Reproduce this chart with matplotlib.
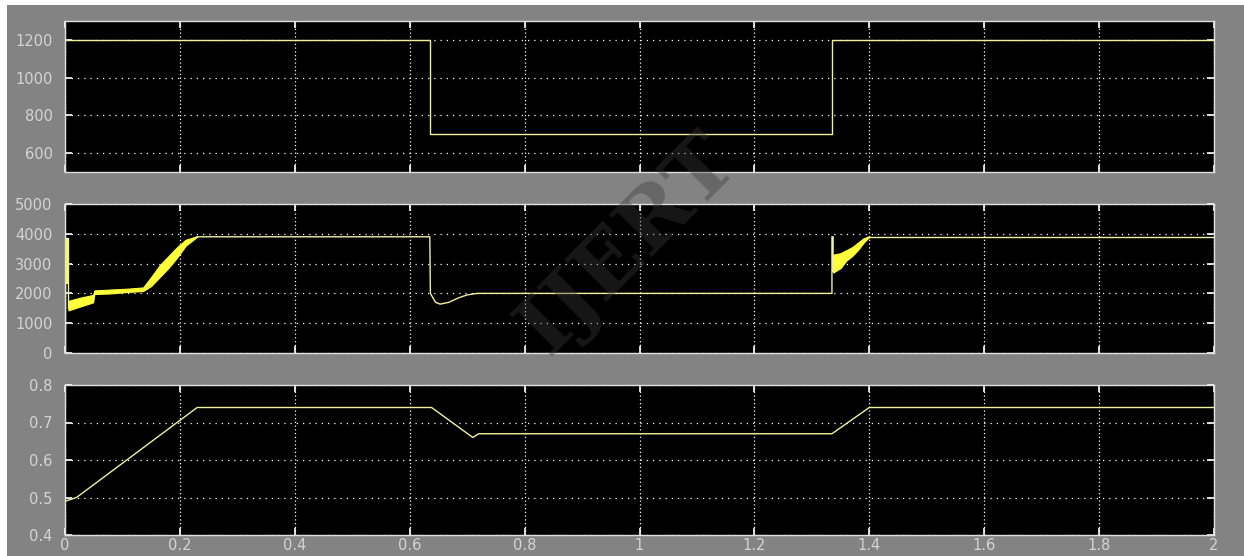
import matplotlib
matplotlib.use("Agg")
import matplotlib.pyplot as plt
from matplotlib.patches import Rectangle

# ---- data ----
# panel 1: speed reference
t_ref = [0.0, 0.635, 0.635, 1.335, 1.335, 2.0]
speed_ref = [1200, 1200, 700, 700, 1200, 1200]

# panel 2: current-like trace (thin parts + chattering bands)
t_start = [0.0, 0.0, 0.006, 0.006]
v_start = [0, 3870, 3870, 1500]
t_bar = [0.0005, 0.006]
bar_low = [2300, 2300]
bar_high = [3870, 3870]

t_band1 = [0.006, 0.025, 0.049, 0.051, 0.08, 0.11, 0.136, 0.15, 0.165, 0.18, 0.195, 0.21, 0.23]
band1_low = [1430, 1550, 1700, 1980, 2000, 2050, 2080, 2250, 2550, 2850, 3200, 3600, 3900]
band1_high = [1750, 1850, 1950, 2100, 2130, 2160, 2200, 2550, 2950, 3250, 3550, 3800, 3920]

t_mid = [0.23, 0.635, 0.636, 0.645, 0.653, 0.668, 0.685, 0.70, 0.717, 1.335, 1.335, 1.337, 1.337]
v_mid = [3900, 3900, 2000, 1700, 1640, 1700, 1850, 1950, 2000, 2000, 3900, 3900, 2750]

t_band2 = [1.337, 1.35, 1.36, 1.37, 1.38, 1.39, 1.40]
band2_low = [2700, 2850, 3100, 3250, 3450, 3700, 3900]
band2_high = [3300, 3350, 3450, 3550, 3700, 3850, 3920]

t_end = [1.40, 2.0]
v_end = [3900, 3900]

# panel 3: duty ratio
t_duty = [0.0, 0.02, 0.23, 0.638, 0.71, 0.72, 1.335, 1.40, 2.0]
duty = [0.49, 0.50, 0.74, 0.74, 0.66, 0.67, 0.67, 0.74, 0.74]

x_ticks = [0, 0.2, 0.4, 0.6, 0.8, 1.0, 1.2, 1.4, 1.6, 1.8, 2.0]
x_labels = ["0", "0.2", "0.4", "0.6", "0.8", "1", "1.2", "1.4", "1.6", "1.8", "2"]
y1_ticks = [600, 800, 1000, 1200]
y2_ticks = [0, 1000, 2000, 3000, 4000, 5000]
y3_ticks = [0.4, 0.5, 0.6, 0.7, 0.8]
y3_labels = ["0.4", "0.5", "0.6", "0.7", "0.8"]

line_col = "#f0f0a0"
band_col = "#ffff3a"
lab_col = "#d4d4d4"

fig = plt.figure(figsize=(12.44, 5.56), dpi=100, facecolor="white")
fig.patches.append(Rectangle((7 / 1244, 0), 1, 551 / 556, transform=fig.transFigure,
                             facecolor="#838383", edgecolor="none", zorder=-10))

left = 65 / 1244
width = (1214 - 65) / 1244
ax1 = fig.add_axes([left, 1 - 172 / 556, width, 151 / 556])
ax2 = fig.add_axes([left, 1 - 353 / 556, width, 149 / 556])
ax3 = fig.add_axes([left, 1 - 535 / 556, width, 150 / 556])


def style(ax, yticks, ylim, ylabels=None, bottom=False):
    ax.set_facecolor("black")
    ax.set_xlim(0, 2)
    ax.set_ylim(*ylim)
    ax.set_xticks(x_ticks)
    ax.set_yticks(yticks)
    if ylabels is not None:
        ax.set_yticklabels(ylabels)
    if bottom:
        ax.set_xticklabels(x_labels)
    else:
        ax.set_xticklabels([])
    for s in ax.spines.values():
        s.set_color("#e0e0e0")
        s.set_linewidth(1.0)
    ax.tick_params(direction="in", length=5, width=1.2, color="white",
                   top=True, right=True, labelcolor=lab_col, labelsize=10.5)
    ax.tick_params(axis="y", pad=9)
    ax.tick_params(axis="x", pad=2)
    ax.xaxis.grid(True, color="white", linestyle=(0, (1, 2)), linewidth=0.9)
    ax.yaxis.grid(True, color="white", linestyle=(0, (1, 4)), linewidth=0.9)
    ax.set_axisbelow(True)


style(ax1, y1_ticks, (500, 1300))
ax1.plot(t_ref, speed_ref, color=line_col, lw=1.0)

style(ax2, y2_ticks, (0, 5000))
ax2.plot(t_start, v_start, color=line_col, lw=1.0)
ax2.fill_between(t_bar, bar_low, bar_high, color=band_col, lw=0)
ax2.fill_between(t_band1, band1_low, band1_high, color=band_col, lw=0.8, edgecolor=band_col)
ax2.plot(t_mid, v_mid, color=line_col, lw=1.0)
ax2.fill_between(t_band2, band2_low, band2_high, color=band_col, lw=0.8, edgecolor=band_col)
ax2.plot(t_end, v_end, color=line_col, lw=1.0)

style(ax3, y3_ticks, (0.4, 0.8), ylabels=y3_labels, bottom=True)
ax3.plot(t_duty, duty, color=line_col, lw=1.0)

# faint watermark over the middle panel
fig.text(0.505, 0.56, "IJERT", rotation=45, fontsize=60, family="DejaVu Serif",
         weight="bold", color="#3a3a3a", alpha=0.4, ha="center", va="center", zorder=0.5)

fig.savefig("out.png", dpi=100, facecolor=fig.get_facecolor())
